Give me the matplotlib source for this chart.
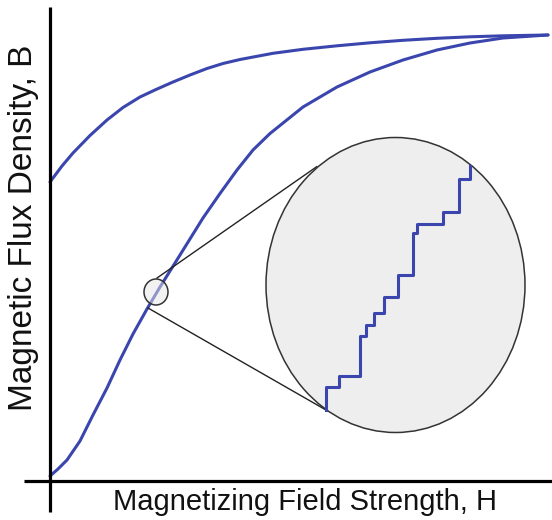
import matplotlib
matplotlib.use("Agg")
import matplotlib.pyplot as plt
from matplotlib.patches import Ellipse

# ---- data (arbitrary units: H to the right, B upward) ----
init_H = [0, 8, 17, 30, 43, 57, 70, 83, 97, 110, 130, 153, 170, 187, 203, 220,
          253, 287, 320, 353, 387, 420, 453, 498]
init_B = [5, 12, 21, 40, 66, 93, 121, 147, 172, 194, 226, 263, 287.5, 311, 331, 347.5,
          374, 394, 409, 421, 431, 438, 443, 446]

demag_H = [0, 12, 23, 40, 57, 73, 90, 106, 123, 140, 157, 173, 190, 223, 253,
           287, 320, 353, 387, 420, 453, 498]
demag_B = [299, 315, 328, 345.5, 361, 373.5, 384, 391.5, 399, 406, 412.5, 417.5, 421.5,
           427.7, 431.7, 435.2, 438.2, 440.7, 442.7, 444.2, 445.2, 446]

step_H = [276, 289, 310, 316, 324, 334, 348, 363, 367, 393, 409, 420, 420]
step_B = [71, 94, 105, 145, 156, 168, 184, 206, 248, 257, 269, 302, 315]

spot_center = (106, 189)
spot_size = (24, 26)
lens_center = (345.5, 196)
lens_size = (259, 295)
upper_ray_H = [107, 266.7]
upper_ray_B = [203, 314.3]
lower_ray_H = [98, 276]
lower_ray_B = [173, 71]

x_label = "Magnetizing Field Strength, H"
y_label = "Magnetic Flux Density, B"

blue = "#3a46ad"

fig = plt.figure(figsize=(5.52, 5.20), dpi=100)
ax = fig.add_axes([0, 0, 1, 1])
ax.set_xlim(-50, 502)
ax.set_ylim(-39, 481)
ax.axis("off")

# axes lines
ax.plot([0, 0], [474, -31], color="black", lw=2.3, solid_capstyle="butt", zorder=5)
ax.plot([-26, 502], [0, 0], color="black", lw=2.3, solid_capstyle="butt", zorder=5)

# curves
ax.plot(init_H, init_B, color=blue, lw=2.2, zorder=3, solid_capstyle="round",
        solid_joinstyle="round")
ax.plot(demag_H, demag_B, color=blue, lw=2.2, zorder=3, solid_capstyle="round",
        solid_joinstyle="round")

# zoom rays
ax.plot(upper_ray_H, upper_ray_B, color="#222222", lw=1.0, zorder=4)
ax.plot(lower_ray_H, lower_ray_B, color="#222222", lw=1.0, zorder=4)

# small spot
ax.add_patch(Ellipse(spot_center, spot_size[0], spot_size[1],
                     facecolor=(0.9, 0.9, 0.9, 0.5),
                     edgecolor="#333333", lw=1.1, zorder=4))

# magnifier
ax.add_patch(Ellipse(lens_center, lens_size[0], lens_size[1], facecolor="#eeeeee",
                     edgecolor="#333333", lw=1.1, zorder=5))
ax.plot(step_H, step_B, drawstyle="steps-pre", color=blue, lw=2.2, zorder=6)

ax.text(255, -29, x_label, ha="center", va="baseline", fontsize=21,
        family="Liberation Sans", color="#111111", rotation_mode="anchor")
ax.text(-18, 253, y_label, ha="center", va="baseline", rotation=90, fontsize=24,
        family="Liberation Sans", color="#111111", rotation_mode="anchor")

fig.savefig("out.png", dpi=100)
